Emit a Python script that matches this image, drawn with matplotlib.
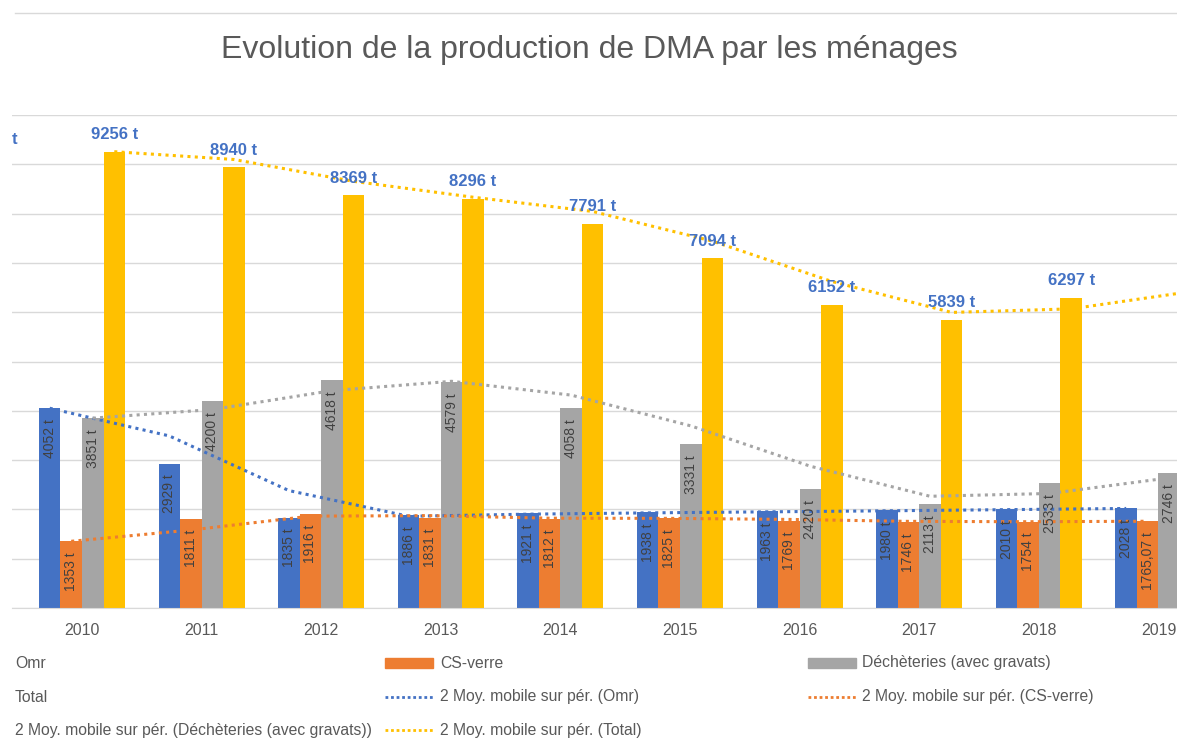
import numpy as np
import pandas as pd
import matplotlib
matplotlib.use("Agg")
import matplotlib.pyplot as plt
from matplotlib.patches import Rectangle
from matplotlib.lines import Line2D

plt.rcParams['font.family'] = ['Liberation Sans', 'DejaVu Sans']

# donnees (tonnes)
annees = ['2010', '2011', '2012', '2013', '2014', '2015', '2016', '2017', '2018', '2019']
omr = [4052, 2929, 1835, 1886, 1921, 1938, 1963, 1980, 2010, 2028]
cs_verre = [1353, 1811, 1916, 1831, 1812, 1825, 1769, 1746, 1754, 1765.07]
decheteries = [3851, 4200, 4618, 4579, 4058, 3331, 2420, 2113, 2533, 2746]
total = [9256, 8940, 8369, 8296, 7791, 7094, 6152, 5839, 6297, 6539]

noms = ['Omr', 'CS-verre', 'Déchèteries (avec gravats)', 'Total']
couleurs = ['#4472C4', '#ED7D31', '#A5A5A5', '#FFC000']
series = [omr, cs_verre, decheteries, total]

W, H = 1177, 749
fig = plt.figure(figsize=(W / 100, H / 100), dpi=100)

def fx(x):
    return x / W

def fy(y):
    return 1 - y / H

ax = fig.add_axes([fx(12), fy(608), (W - 12) / W, (608 - 115) / H])

x = np.arange(len(annees))
larg = 0.18
decal = [-1.5 * larg, -0.5 * larg, 0.5 * larg, 1.5 * larg]

def fmt(v):
    s = ('%g' % v).replace('.', ',')
    return s + ' t'

for k, (vals, c) in enumerate(zip(series, couleurs)):
    ax.bar(x + decal[k], vals, width=larg, color=c, zorder=2)
    if k < 3:
        for xi, v in zip(x, vals):
            ax.annotate(fmt(v), (xi + decal[k], v), xytext=(0, -8), textcoords='offset points',
                        rotation=90, ha='center', va='top', fontsize=10, color='#404040', zorder=4)
    else:
        for xi, v in zip(x, vals):
            ax.annotate(fmt(v), (xi + decal[k], v), xytext=(0, 7), textcoords='offset points',
                        ha='center', va='bottom', fontsize=12, fontweight='bold',
                        color='#4472C4', zorder=4)

# moyennes mobiles sur 2 periodes
for k, (vals, c) in enumerate(zip(series, couleurs)):
    mm = pd.Series(vals).rolling(2, min_periods=1).mean()
    ax.plot(x + decal[k], mm, color=c, lw=2.2, linestyle=(0, (1, 1.4)), zorder=3)

ax.set_xlim(-0.585, 9.155)
ax.set_ylim(0, 10000)
ax.set_yticks(np.arange(0, 10001, 1000))
ax.yaxis.grid(True, color='#D9D9D9', lw=1)
ax.set_axisbelow(True)
ax.tick_params(axis='y', left=False, labelleft=False)
ax.set_xticks(x)
ax.set_xticklabels(annees)
ax.tick_params(axis='x', length=0, labelsize=11.5, labelcolor='#595959', pad=11)
for s in ['top', 'left', 'right']:
    ax.spines[s].set_visible(False)
ax.spines['bottom'].set_color('#D9D9D9')

# fragment de libelle coupe a gauche
fig.text(fx(12), fy(140), 't', fontsize=12, fontweight='bold', color='#4472C4',
         ha='left', va='center')

fig.text(0.501, fy(50), 'Evolution de la production de DMA par les ménages',
         fontsize=23, color='#595959', ha='center', va='center')

fig.add_artist(Line2D([fx(15), 1], [fy(13), fy(13)], color='#D9D9D9', lw=1))

# legende
entrees = [(n, 'bar', c) for n, c in zip(noms, couleurs)]
entrees += [('2 Moy. mobile sur pér. (%s)' % n, 'line', c) for n, c in zip(noms, couleurs)]
lignes_y = [663, 697, 730]
handle_x = [-70, 385, 808]
texte_x = [15, 440, 862]
for i, (lab, kind, c) in enumerate(entrees):
    r, cidx = i // 3, i % 3
    x0, y0 = handle_x[cidx], lignes_y[r]
    if kind == 'bar':
        fig.add_artist(Rectangle((fx(x0), fy(y0 + 5)), 48 / W, 10 / H, color=c))
    else:
        fig.add_artist(Line2D([fx(x0), fx(x0 + 48)], [fy(y0), fy(y0)], color=c, lw=2,
                              linestyle=(0, (1, 1))))
    fig.text(fx(texte_x[cidx]), fy(y0), lab, fontsize=11.3, color='#595959',
             ha='left', va='center')

fig.savefig('out.png', dpi=100)
